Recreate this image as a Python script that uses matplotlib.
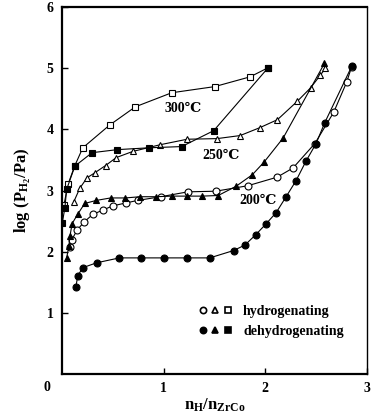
import matplotlib
matplotlib.use("Agg")
from matplotlib import pyplot as plt
from matplotlib.lines import Line2D
from matplotlib.legend_handler import HandlerTuple

# 200 C, hydrogenating (open circles)
h200_x = [0.078, 0.098, 0.151, 0.220, 0.302, 0.400, 0.498, 0.634, 0.746, 0.971,
          1.239, 1.512, 1.829, 2.117, 2.273, 2.488, 2.673, 2.800, 2.849]
h200_y = [2.08, 2.20, 2.36, 2.49, 2.61, 2.68, 2.75, 2.80, 2.84, 2.90,
          2.98, 2.99, 3.08, 3.22, 3.37, 3.77, 4.28, 4.77, 5.02]

# 200 C, dehydrogenating (filled circles)
d200_x = [0.137, 0.156, 0.205, 0.341, 0.566, 0.780, 1.005, 1.229, 1.454, 1.688,
          1.800, 1.907, 2.010, 2.107, 2.205, 2.302, 2.400, 2.500, 2.585, 2.850]
d200_y = [1.43, 1.61, 1.74, 1.82, 1.90, 1.90, 1.90, 1.90, 1.90, 2.02,
          2.11, 2.28, 2.46, 2.64, 2.90, 3.16, 3.48, 3.77, 4.11, 5.03]

# 250 C, hydrogenating (open triangles)
h250_x = [0.117, 0.176, 0.247, 0.322, 0.429, 0.534, 0.696, 0.966, 1.232, 1.525,
          1.753, 1.948, 2.120, 2.315, 2.446, 2.543, 2.592]
h250_y = [2.82, 3.04, 3.21, 3.29, 3.41, 3.54, 3.64, 3.75, 3.84, 3.85,
          3.90, 4.03, 4.16, 4.46, 4.68, 4.89, 5.00]

# 250 C, dehydrogenating (filled triangles)
d250_x = [0.046, 0.068, 0.078, 0.100, 0.153, 0.224, 0.339, 0.478, 0.621, 0.771,
          0.924, 1.080, 1.229, 1.380, 1.537, 1.712, 1.873, 1.990, 2.176, 2.582]
d250_y = [1.90, 2.09, 2.25, 2.46, 2.61, 2.79, 2.84, 2.88, 2.88, 2.90,
          2.90, 2.91, 2.91, 2.91, 2.92, 3.07, 3.26, 3.47, 3.86, 5.08]

# 300 C, hydrogenating (open squares)
h300_x = [0.020, 0.059, 0.127, 0.205, 0.468, 0.722, 1.080, 1.502, 1.851, 2.029]
h300_y = [2.77, 3.10, 3.41, 3.70, 4.07, 4.37, 4.60, 4.70, 4.86, 5.01]

# 300 C, dehydrogenating (filled squares)
d300_x = [0.003, 0.029, 0.046, 0.127, 0.296, 0.546, 0.859, 1.178, 1.493, 2.029]
d300_y = [2.47, 2.72, 3.02, 3.40, 3.62, 3.67, 3.70, 3.72, 3.98, 5.01]

temp_labels = ["300℃", "250℃", "200℃"]
temp_pos = [(1.19, 4.34), (1.57, 3.57), (1.93, 2.84)]

serif = ["Liberation Serif", "DejaVu Serif"]
plt.rcParams["font.family"] = serif
plt.rcParams["font.weight"] = "bold"
plt.rcParams["mathtext.fontset"] = "custom"
plt.rcParams["mathtext.rm"] = "Liberation Serif:bold"
plt.rcParams["mathtext.bf"] = "Liberation Serif:bold"
plt.rcParams["mathtext.it"] = "Liberation Serif:bold"

fig = plt.figure(figsize=(3.71, 4.18), dpi=100)
ax = fig.add_axes([0.167, 0.105, 0.822, 0.878])

lw = 0.8
ms = 5
ax.plot(h200_x, h200_y, "-o", color="black", mfc="white", mec="black", ms=ms, lw=lw, mew=0.8)
ax.plot(d200_x, d200_y, "-o", color="black", mfc="black", mec="black", ms=ms, lw=lw, mew=0.8)
ax.plot(h250_x, h250_y, "-^", color="black", mfc="white", mec="black", ms=ms, lw=lw, mew=0.8)
ax.plot(d250_x, d250_y, "-^", color="black", mfc="black", mec="black", ms=ms, lw=lw, mew=0.8)
ax.plot(h300_x, h300_y, "-s", color="black", mfc="white", mec="black", ms=ms, lw=lw, mew=0.8)
ax.plot(d300_x, d300_y, "-s", color="black", mfc="black", mec="black", ms=ms, lw=lw, mew=0.8)

for lab, (tx, ty) in zip(temp_labels, temp_pos):
    ax.text(tx, ty, lab, ha="center", va="center", fontsize=10, fontweight="bold", family=serif)

ax.set_xlim(0, 3)
ax.set_ylim(0, 6)
ax.set_xticks([1, 2, 3])
ax.set_yticks([1, 2, 3, 4, 5, 6])
ax.tick_params(direction="in", length=4, width=1, labelsize=10, pad=6)
for lbl in ax.get_xticklabels() + ax.get_yticklabels():
    lbl.set_fontweight("bold")
ax.text(-0.05, -0.02, "0", transform=ax.transAxes, ha="center", va="top",
        fontsize=10, fontweight="bold")

for side in ["left", "bottom", "top"]:
    ax.spines[side].set_linewidth(1.6)
ax.spines["right"].set_linewidth(1.0)

ax.set_xlabel(r"$\mathbf{n_H/n_{ZrCo}}$", fontsize=12, labelpad=1)
ax.set_ylabel(r"$\mathbf{log\ (P_{H_2}/Pa)}$", fontsize=12, labelpad=10)

def mk(marker, fill):
    return Line2D([], [], ls="none", marker=marker, mfc=fill, mec="black", ms=4.5, mew=1.2)

handles = [(mk("o", "white"), mk("^", "white"), mk("s", "white")),
           (mk("o", "black"), mk("^", "black"), mk("s", "black"))]
leg = ax.legend(handles, ["hydrogenating", "dehydrogenating"],
                handler_map={tuple: HandlerTuple(ndivide=None, pad=0.3)},
                loc="lower right", bbox_to_anchor=(0.965, 0.065), frameon=False,
                prop={"family": serif, "weight": "bold", "size": 10},
                handlelength=2.4, handletextpad=0.8, labelspacing=0.5)

fig.savefig("out.png", dpi=100)
